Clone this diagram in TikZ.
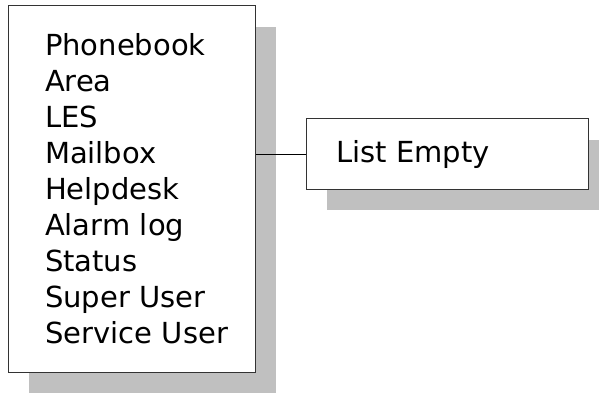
\documentclass[tikz,border=0pt]{standalone}
\usepackage{fontspec}
\setmainfont{DejaVu Sans}
\usetikzlibrary{shadows,positioning}
\definecolor{shadowgray}{RGB}{192,192,192}

\begin{document}
\begin{tikzpicture}[
    x=1pt, y=-1pt,
    box/.style={draw=black!80, line width=1pt, fill=white, rectangle, align=left,
      font=\fontsize{29}{36}\selectfont,
      drop shadow={shadow xshift=21pt, shadow yshift=-21pt, fill=shadowgray, opacity=1}},
    link/.style={draw=black, line width=1pt}
]
    \useasboundingbox (0,0) rectangle (599,393);

    % Menu list
    \node [box, inner xsep=37pt, text width=173pt, minimum height=366pt] (menu) at (131.5,189) {Phonebook\\Area\\LES\\Mailbox\\Helpdesk\\Alarm~log\\Status\\Super~User\\Service~User};

    % Sub-item
    \node [box, inner xsep=30pt, text width=222pt, minimum height=70pt] (empty) at (447,154) {List Empty};

    % Connector
    \draw [link] (empty.west) -- (empty.west -| menu.east);
\end{tikzpicture}
\end{document}
